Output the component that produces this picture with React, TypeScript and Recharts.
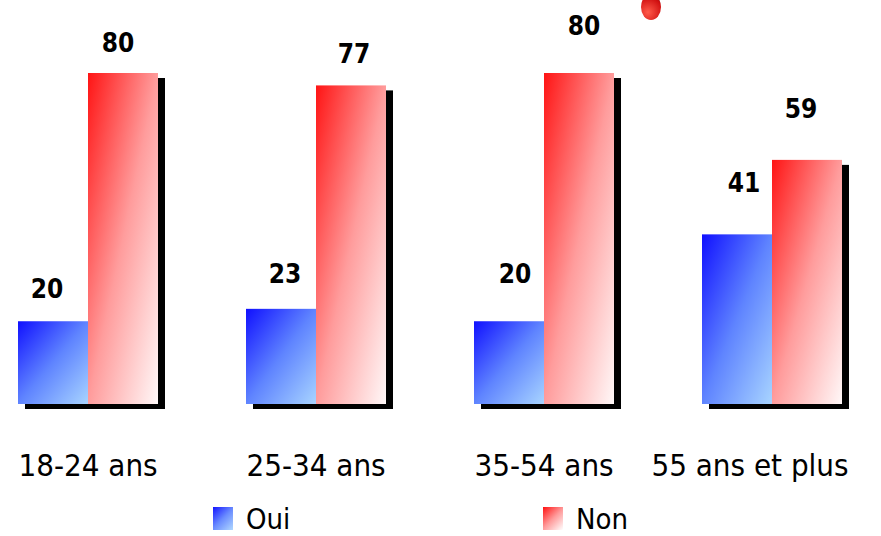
import { BarChart, Bar, XAxis, YAxis, Legend, LabelList } from "recharts";

const categories = ["18-24 ans", "25-34 ans", "35-54 ans", "55 ans et plus"];
const ouiValues = [20, 23, 20, 41];
const nonValues = [80, 77, 80, 59];

const data = categories.map((cat, i) => ({ cat, oui: ouiValues[i], non: nonValues[i] }));

const FONT = "'DejaVu Sans Condensed', 'DejaVu Sans', sans-serif";

// the labels in the original were placed by hand, so nudge them a bit per group
const ouiNudge = [
  { dx: -6, gap: 23 },
  { dx: 4, gap: 26 },
  { dx: 6, gap: 38 },
  { dx: 7, gap: 42 },
];
const nonNudge = [
  { dx: -5, gap: 21 },
  { dx: 3, gap: 22 },
  { dx: 5, gap: 38 },
  { dx: -6, gap: 42 },
];

const shadowBar = (fillId: string) => (props: any) => {
  const { x, y, width, height } = props;
  if (!height) return null;
  return (
    <g>
      <rect x={x + 7} y={y + 5} width={width} height={height} fill="#000" />
      <rect x={x} y={y} width={width} height={height} fill={`url(#${fillId})`} />
    </g>
  );
};

const valueLabel = (nudge: { dx: number; gap: number }[]) => (props: any) => {
  const { x, y, width, value, index } = props;
  const n = nudge[index] || { dx: 0, gap: 24 };
  return (
    <text
      x={x + width / 2 + n.dx}
      y={y - n.gap}
      textAnchor="middle"
      fontFamily={FONT}
      fontWeight="bold"
      fontSize={26}
      fill="#000"
    >
      {value}
    </text>
  );
};

const CategoryTick = (props: any) => {
  const { x, y, payload, index } = props;
  const shift = index === categories.length - 1 ? -22 : 0;
  return (
    <text x={x + shift} y={y + 72} textAnchor="middle" fontFamily={FONT} fontSize={31} fill="#000">
      {payload.value}
    </text>
  );
};

const legendItems = [
  { name: "Oui", bg: "linear-gradient(135deg, #1414ff 0%, #6a8cff 50%, #b0d8ff 100%)", left: 239 },
  { name: "Non", bg: "linear-gradient(135deg, #ff1010 0%, #ff9a9a 50%, #ffffff 100%)", left: 569 },
];

const renderLegend = () => (
  <div style={{ position: "relative", height: 30, fontFamily: FONT, fontSize: 29 }}>
    {legendItems.map((it) => (
      <div key={it.name}>
        <span
          style={{ position: "absolute", left: it.left, top: 5, width: 20, height: 23, background: it.bg }}
        />
        <span
          style={{
            position: "absolute",
            left: it.left + 33,
            top: 4,
            lineHeight: "26px",
            color: "#000",
            whiteSpace: "nowrap",
          }}
        >
          {it.name}
        </span>
      </div>
    ))}
  </div>
);

export default function App() {
  return (
    <div style={{ position: "absolute", left: 0, top: 0, width: 881, height: 536, overflow: "hidden", background: "#fff" }}>
      <div
        style={{
          position: "absolute",
          left: 641,
          top: -6,
          width: 20,
          height: 26,
          borderRadius: "50%",
          background: "radial-gradient(circle at 35% 70%, #ff5a4a 0%, #d01010 65%, #601010 100%)",
        }}
      />
      <div style={{ position: "absolute", left: -26, top: 0 }}>
        <BarChart
          width={912}
          height={536}
          data={data}
          margin={{ top: 73, right: 0, left: 0, bottom: 52 }}
          barGap={0}
          barSize={70}
        >
          <defs>
            <linearGradient id="gradOui" x1="0" y1="0" x2="1" y2="1">
              <stop offset="0%" stopColor="#1010ff" />
              <stop offset="50%" stopColor="#5f84ff" />
              <stop offset="100%" stopColor="#a8d4ff" />
            </linearGradient>
            <linearGradient id="gradNon" x1="0" y1="0" x2="1" y2="1">
              <stop offset="0%" stopColor="#ff1414" />
              <stop offset="50%" stopColor="#ff9c9c" />
              <stop offset="100%" stopColor="#fff8f8" />
            </linearGradient>
          </defs>
          <XAxis
            dataKey="cat"
            height={80}
            axisLine={false}
            tickLine={false}
            tickSize={0}
            tickMargin={0}
            interval={0}
            tick={CategoryTick}
          />
          <YAxis hide domain={[0, 80]} />
          <Legend
            layout="horizontal"
            verticalAlign="middle"
            align="center"
            content={renderLegend}
            wrapperStyle={{ position: "absolute", top: 502, left: 0, width: 912, height: 30 }}
          />
          <Bar dataKey="oui" name="Oui" isAnimationActive={false} shape={shadowBar("gradOui")}>
            <LabelList dataKey="oui" content={valueLabel(ouiNudge)} />
          </Bar>
          <Bar dataKey="non" name="Non" isAnimationActive={false} shape={shadowBar("gradNon")}>
            <LabelList dataKey="non" content={valueLabel(nonNudge)} />
          </Bar>
        </BarChart>
      </div>
    </div>
  );
}
